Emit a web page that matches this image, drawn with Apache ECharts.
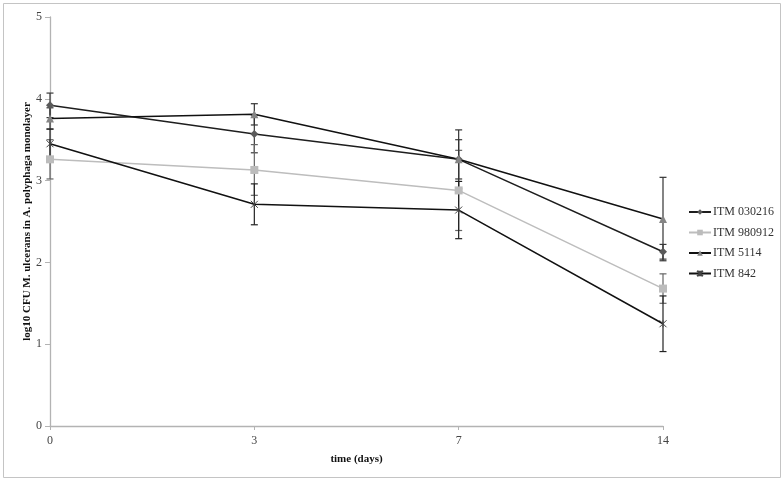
<!DOCTYPE html>
<html>
<head>
<meta charset="utf-8">
<script src="https://cdn.jsdelivr.net/npm/echarts@6/dist/echarts.min.js"></script>
<style>
  html, body { margin: 0; padding: 0; background: #fff; }
  #chart { width: 784px; height: 481px; }
</style>
</head>
<body>
<div id="chart"></div>
<script>
// time points (days)
const days = ["0", "3", "7", "14"];
const yTicks = [0, 1, 2, 3, 4, 5];

// log10 CFU means and error (+/-) per strain
const itm030216 = [3.92, 3.57, 3.26, 2.13];
const itm030216Err = [0.15, 0.23, 0.24, 0.09];
const itm980912 = [3.26, 3.13, 2.88, 1.68];
const itm980912Err = [0.24, 0.31, 0.49, 0.18];
const itm5114 = [3.76, 3.81, 3.26, 2.53];
const itm5114Err = [0.13, 0.13, 0.36, 0.51];
const itm842 = [3.45, 2.71, 2.64, 1.25];
const itm842Err = [0.18, 0.25, 0.35, 0.34];

const font = "Liberation Serif";
const crossPath = "path://M0,0L10,10M10,0L0,10M5,0L5,10";

function errorSeries(name, values, errs, color) {
  return {
    name: name + " err",
    type: "custom",
    z: 1,
    silent: true,
    data: values.map((v, i) => [i, v - errs[i], v + errs[i]]),
    renderItem(params, api) {
      const lo = api.coord([api.value(0), api.value(1)]);
      const hi = api.coord([api.value(0), api.value(2)]);
      const cap = 3.5;
      const style = { stroke: color, lineWidth: 1.2 };
      return {
        type: "group",
        children: [
          { type: "line", shape: { x1: lo[0], y1: lo[1], x2: hi[0], y2: hi[1] }, style },
          { type: "line", shape: { x1: lo[0] - cap, y1: lo[1], x2: lo[0] + cap, y2: lo[1] }, style },
          { type: "line", shape: { x1: hi[0] - cap, y1: hi[1], x2: hi[0] + cap, y2: hi[1] }, style },
        ],
      };
    },
  };
}

function lineSeries(name, values, lineColor, symbol, symbolColor, size) {
  const isCross = symbol === crossPath;
  return {
    name,
    type: "line",
    z: 3,
    data: values,
    symbol,
    symbolSize: size,
    showAllSymbol: true,
    lineStyle: { color: lineColor, width: 1.5 },
    itemStyle: isCross
      ? { color: "rgba(0,0,0,0)", borderColor: symbolColor, borderWidth: 1 }
      : { color: symbolColor, borderWidth: 0 },
    emphasis: { disabled: true },
  };
}

const chart = echarts.init(document.getElementById("chart"));
chart.setOption({
  backgroundColor: "#fff",
  animation: false,
  textStyle: { fontFamily: font },
  graphic: [
    {
      type: "rect",
      shape: { x: 3.5, y: 3.5, width: 777, height: 474 },
      style: { fill: "none", stroke: "#c4c4c4", lineWidth: 1 },
      silent: true,
    },
  ],
  grid: { left: 50, right: 121, top: 17, bottom: 55 },
  legend: {
    data: ["ITM 030216", "ITM 980912", "ITM 5114", "ITM 842"],
    orient: "vertical",
    left: 688,
    top: 206,
    padding: 0,
    itemWidth: 22,
    itemHeight: 7,
    itemGap: 8.5,
    textStyle: { fontFamily: font, fontSize: 12, color: "#333", padding: [0, 0, 0, -3] },
  },
  xAxis: {
    type: "category",
    data: days,
    boundaryGap: false,
    name: "time (days)",
    nameLocation: "middle",
    nameGap: 28,
    nameTextStyle: { fontFamily: font, fontWeight: "bold", fontSize: 11, color: "#111" },
    axisLine: { lineStyle: { color: "#b3b3b3", width: 1.3 } },
    axisTick: { show: true, length: 4, lineStyle: { color: "#b3b3b3" } },
    axisLabel: { fontFamily: font, fontSize: 12, color: "#444", margin: 9 },
    splitLine: { show: false },
  },
  yAxis: {
    type: "value",
    min: yTicks[0],
    max: yTicks[yTicks.length - 1],
    interval: 1,
    name: "log10 CFU M. ulcerans in A. polyphaga monolayer",
    nameLocation: "middle",
    nameGap: 17,
    nameMoveOverlap: false,
    nameTextStyle: { fontFamily: font, fontWeight: "bold", fontSize: 11, color: "#111" },
    axisLine: { show: true, lineStyle: { color: "#b3b3b3", width: 1.3 } },
    axisTick: { show: true, length: 5, lineStyle: { color: "#b3b3b3" } },
    axisLabel: { fontFamily: font, fontSize: 12, color: "#444", margin: 8 },
    splitLine: { show: false },
  },
  series: [
    errorSeries("ITM 030216", itm030216, itm030216Err, "#3a3a3a"),
    errorSeries("ITM 980912", itm980912, itm980912Err, "#666"),
    errorSeries("ITM 5114", itm5114, itm5114Err, "#333"),
    errorSeries("ITM 842", itm842, itm842Err, "#222"),
    lineSeries("ITM 030216", itm030216, "#1e1e1e", "diamond", "#5a5a5a", 8),
    lineSeries("ITM 980912", itm980912, "#bdbdbd", "rect", "#bcbcbc", 8),
    lineSeries("ITM 5114", itm5114, "#111", "triangle", "#858585", 8),
    lineSeries("ITM 842", itm842, "#111", crossPath, "#444", 7),
  ],
});
</script>
</body>
</html>
